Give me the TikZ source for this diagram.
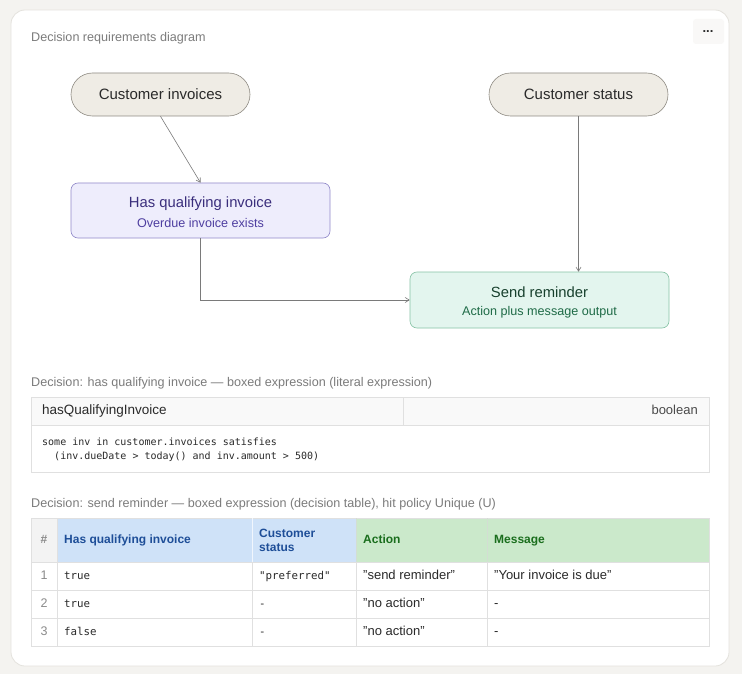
\documentclass[tikz,border=0pt]{standalone}
\usepackage{fontspec}
\setmainfont{Liberation Sans}
\setmonofont{DejaVu Sans Mono}
\usetikzlibrary{arrows.meta,positioning}
\definecolor{pagebg}{HTML}{F4F3F0}
\definecolor{cardline}{HTML}{E4E2DD}
\definecolor{labelgray}{HTML}{7C7C7C}
\definecolor{pillfill}{HTML}{EFECE5}
\definecolor{pillline}{HTML}{8E8A82}
\definecolor{darktext}{HTML}{2A2A2A}
\definecolor{hqfill}{HTML}{EEEDFC}
\definecolor{hqline}{HTML}{9189C9}
\definecolor{hqtitle}{HTML}{3A2E7C}
\definecolor{hqsub}{HTML}{4E3EA0}
\definecolor{srfill}{HTML}{E3F5EE}
\definecolor{srline}{HTML}{86C2A5}
\definecolor{srtitle}{HTML}{17402D}
\definecolor{srsub}{HTML}{1F6B47}
\definecolor{edgecol}{HTML}{7A7A7A}
\definecolor{tline}{HTML}{E0E0E0}
\definecolor{thead}{HTML}{F9F9F9}
\definecolor{numfill}{HTML}{F3F3F3}
\definecolor{infill}{HTML}{CFE2F8}
\definecolor{outfill}{HTML}{CBE9CB}
\definecolor{inhead}{HTML}{1E4E98}
\definecolor{outhead}{HTML}{1A6E1D}
\definecolor{numgray}{HTML}{8A8A8A}
\tikzset{
  pill/.style={draw=pillline, fill=pillfill, rounded corners=21.5pt, minimum width=179pt, minimum height=43pt, inner sep=0pt, line width=0.6pt, text=darktext, font=\fontsize{15}{17}\selectfont},
  decbox/.style={rounded corners=7pt, minimum width=259pt, minimum height=55pt, inner sep=0pt, line width=0.6pt},
  dtitle/.style={inner sep=0pt, font=\fontsize{14.8}{17}\selectfont},
  dsub/.style={inner sep=0pt, font=\fontsize{12.6}{15}\selectfont},
  edge/.style={draw=edgecol, line width=0.6pt, -{Straight Barb[length=4pt,width=5pt]}},
  seclabel/.style={anchor=west, inner sep=0pt, text=labelgray, font=\fontsize{12.6}{15}\selectfont},
  fixh/.style={text height=9pt, text depth=3pt},
  cell/.style={anchor=west, inner sep=0pt, fixh, text=darktext, font=\fontsize{13}{15}\selectfont},
  codecell/.style={anchor=west, inner sep=0pt, fixh, text=darktext, font=\ttfamily\fontsize{10.8}{13}\selectfont},
  numcell/.style={inner sep=0pt, fixh, text=numgray, font=\fontsize{12.5}{14}\selectfont},
  inh/.style={anchor=west, inner sep=0pt, text=inhead, align=left, font=\bfseries\fontsize{12}{14}\selectfont},
  outh/.style={anchor=west, inner sep=0pt, fixh, text=outhead, font=\bfseries\fontsize{12}{14}\selectfont},
}
\begin{document}
\begin{tikzpicture}[x=1pt,y=-1pt]
\useasboundingbox (0,0) rectangle (742,674);
\fill[pagebg] (0,0) rectangle (742,674);
\draw[cardline, fill=white, rounded corners=14pt, line width=0.8pt] (11,10) rectangle (729,666);
% menu button
\fill[pagebg!55, rounded corners=3pt] (693,19) rectangle (724,44);
\node[inner sep=0pt, anchor=base, text=darktext, font=\bfseries\fontsize{13}{14}\selectfont] (menu) at (708,33) {...};
% title
\node[seclabel] (title) at (31,38) {Decision requirements diagram};
% DRD nodes
\node[pill] (ci) at (160.5,94.5) {Customer invoices};
\node[pill] (cs) at (578.5,94.5) {Customer status};
\node[decbox, draw=hqline, fill=hqfill] (hq) at (200.5,210.5) {};
\node[dtitle, text=hqtitle] (hqt) at ([yshift=7pt]hq.center) {Has qualifying invoice};
\node[dsub, text=hqsub] (hqs) at ([yshift=-12.5pt]hq.center) {Overdue invoice exists};
\node[decbox, draw=srline, fill=srfill, minimum height=56pt] (sr) at (539.5,300) {};
\node[dtitle, text=srtitle] (srt) at ([yshift=8pt]sr.center) {Send reminder};
\node[dsub, text=srsub] (srs) at ([yshift=-12.5pt]sr.center) {Action plus message output};
% edges
\draw[edge] (ci.south) -- (hq.north);
\draw[edge] (cs.south) -- (cs.south |- sr.north);
\draw[edge] (hq.south) |- (sr.west);
% section 1
\node[seclabel] (sec1) at (31,383) {Decision: has qualifying invoice — boxed expression (literal expression)};
\fill[thead] (31,397) rectangle (709,425);
\draw[tline, line width=0.8pt] (31,397) rectangle (709,472);
\draw[tline, line width=0.8pt] (31,425) -- (709,425);
\draw[tline, line width=0.8pt] (403,397) -- (403,425);
\node[cell, font=\fontsize{13.5}{15}\selectfont] (qname) at (42,411) {hasQualifyingInvoice};
\node[cell, anchor=east, text=darktext!85] (qtype) at (698,411) {boolean};
\node[anchor=north west, inner sep=0pt, align=left, text=darktext, font=\ttfamily\fontsize{10}{14}\selectfont] (qcode) at (42,437.5)
  {some inv in customer.invoices satisfies\\\phantom{xx}(inv.dueDate > today() and inv.amount > 500)};
% section 2
\node[seclabel] (sec2) at (31,504) {Decision: send reminder — boxed expression (decision table), hit policy Unique (U)};
\fill[numfill] (31,518) rectangle (57,562);
\fill[infill] (57,518) rectangle (356,562);
\fill[outfill] (356,518) rectangle (709,562);
\draw[tline, line width=0.8pt] (31,518) rectangle (709,646);
\foreach \yy in {562,590,618} \draw[tline, line width=0.8pt] (31,\yy) -- (709,\yy);
\foreach \xx in {57,487} \draw[tline, line width=0.8pt] (\xx,518) -- (\xx,646);
\draw[white!70!infill, line width=0.8pt] (252,518) -- (252,562);
\draw[tline, line width=0.8pt] (252,562) -- (252,646);
\draw[white!60!outfill!90!black, line width=0.8pt] (356,518) -- (356,562);
\draw[tline, line width=0.8pt] (356,562) -- (356,646);
\draw[white!60!outfill!90!black, line width=0.8pt] (487,518) -- (487,562);
% header
\node[numcell, font=\bfseries\fontsize{12}{14}\selectfont] (hnum) at (44,540) {\#};
\node[inh, fixh] (hin1) at (64,540) {Has qualifying invoice};
\node[inh] (hin2) at (259,540) {Customer\\status};
\node[outh] (hout1) at (363,540) {Action};
\node[outh] (hout2) at (494,540) {Message};
% rows
\node[numcell] (n1) at (44,576) {1};
\node[codecell] (r1a) at (64,576) {true};
\node[codecell] (r1b) at (259,576) {"preferred"};
\node[cell] (r1c) at (363,576) {"send reminder"};
\node[cell] (r1d) at (494,576) {"Your invoice is due"};
\node[numcell] (n2) at (44,604) {2};
\node[codecell] (r2a) at (64,604) {true};
\node[codecell] (r2b) at (259,604) {-};
\node[cell] (r2c) at (363,604) {"no action"};
\node[cell] (r2d) at (494,604) {-};
\node[numcell] (n3) at (44,632) {3};
\node[codecell] (r3a) at (64,632) {false};
\node[codecell] (r3b) at (259,632) {-};
\node[cell] (r3c) at (363,632) {"no action"};
\node[cell] (r3d) at (494,632) {-};
\end{tikzpicture}
\end{document}
